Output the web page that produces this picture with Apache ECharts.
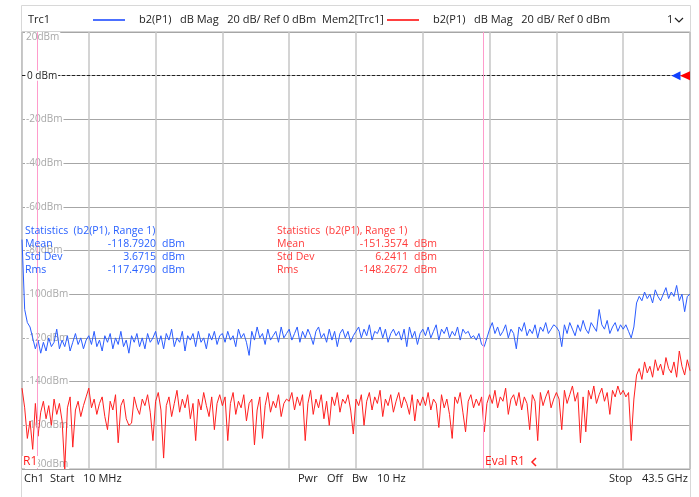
<!DOCTYPE html>
<html>
<head>
<meta charset="utf-8">
<script src="https://cdn.jsdelivr.net/npm/echarts@6/dist/echarts.min.js"></script>
<style>html,body{margin:0;padding:0;background:#fff}#c{width:699px;height:497px}</style>
</head>
<body>
<div id="c"></div>
<script>
// Sweep 10 MHz .. 43.5 GHz, 251 points (index 0..250)
const yTicks = [20, 0, -20, -40, -60, -80, -100, -120, -140, -160, -180];
const traceB2 = [
 -75,-107,-113,-115,-120,-125,-121,-127,-122,-126,-120,-124,-122,-116,-125,-121,-124,-119,-126,-122,-118,-123,-120,-125,-121,
 -119,-123,-117,-124,-121,-126,-119,-122,-118,-125,-120,-123,-117,-124,-121,-127,-119,-122,-118,-124,-120,-125,-118,-122,-120,
 -117,-123,-119,-125,-118,-121,-116,-124,-120,-122,-117,-126,-119,-121,-118,-124,-117,-122,-120,-125,-118,-121,-117,-123,-119,
 -118,-122,-117,-121,-119,-124,-116,-120,-118,-122,-128,-117,-121,-115,-120,-118,-123,-116,-121,-119,-117,-122,-115,-120,-118,
 -116,-121,-118,-115,-122,-117,-120,-116,-119,-123,-117,-115,-120,-118,-122,-116,-121,-117,-124,-118,-116,-120,-117,-122,-119,
 -117,-115,-120,-116,-119,-114,-121,-117,-118,-115,-120,-116,-122,-118,-116,-119,-117,-121,-116,-124,-115,-120,-117,-123,-118,
 -116,-119,-115,-120,-117,-114,-121,-116,-118,-115,-120,-117,-119,-115,-121,-116,-118,-117,-120,-119,-121,-118,-123,-124,-120,
 -116,-113,-118,-115,-119,-117,-114,-120,-116,-118,-125,-115,-117,-113,-119,-116,-118,-114,-120,-115,-117,-113,-118,-116,-114,
 -115,-117,-124,-114,-118,-113,-116,-119,-114,-117,-112,-116,-118,-113,-115,-117,-107,-114,-116,-112,-118,-115,-113,-117,-114,
 -116,-114,-117,-120,-115,-104,-101,-103,-99,-102,-100,-104,-98,-101,-103,-100,-97,-102,-99,-101,-96,-103,-100,-108,-101,-100
];
const traceMem2 = [
 -143,-152,-166,-158,-171,-150,-165,-154,-149,-157,-151,-160,-148,-155,-150,-158,-180,-152,-147,-170,-153,-149,-156,-151,-147,
 -143,-152,-148,-155,-150,-147,-156,-162,-149,-153,-146,-168,-151,-148,-157,-160,-159,-147,-152,-155,-148,-151,-146,-154,-167,
 -149,-145,-153,-175,-151,-147,-156,-150,-144,-154,-148,-152,-146,-157,-150,-167,-148,-153,-145,-151,-156,-147,-162,-150,-146,
 -151,-147,-167,-150,-145,-155,-149,-152,-146,-158,-150,-148,-169,-153,-147,-166,-151,-145,-154,-149,-152,-146,-156,-150,-148,
 -149,-145,-153,-147,-151,-146,-167,-150,-144,-155,-148,-152,-146,-157,-149,-160,-147,-151,-145,-154,-148,-150,-146,-153,-164,
 -148,-151,-146,-160,-149,-145,-153,-147,-150,-144,-156,-148,-151,-146,-154,-149,-145,-152,-147,-150,-155,-146,-158,-148,-151,
 -147,-151,-145,-153,-148,-150,-161,-146,-152,-148,-155,-166,-147,-150,-145,-154,-163,-149,-146,-152,-148,-151,-147,-163,-150,
 -146,-150,-144,-152,-147,-149,-143,-155,-148,-146,-151,-145,-153,-147,-150,-162,-146,-149,-167,-145,-151,-147,-144,-152,-148,
 -145,-148,-162,-144,-150,-146,-142,-149,-145,-168,-147,-163,-144,-148,-142,-150,-146,-143,-149,-145,-155,-144,-147,-142,-146,
 -144,-147,-145,-167,-148,-137,-134,-139,-131,-136,-133,-138,-130,-135,-132,-137,-129,-134,-136,-131,-138,-126,-133,-137,-130,-135
];
const range1 = [5.6, 172.8];
const refLevel = 0;
const refLabel = '0 dBm';
const statsLabels = ['Mean', 'Std Dev', 'Rms'];
const statsB2 = ['-118.7920', '3.6715', '-117.4790'];
const statsMem2 = ['-151.3574', '6.2411', '-148.2672'];
const headerB2 = 'b2(P1)   dB Mag   20 dB/ Ref 0 dBm';

const FONT = '"Open Sans", "Noto Sans", sans-serif';
const BLUE = '#2a5cff', RED = '#ff1f1f';
const chart = echarts.init(document.getElementById('c'), null, {renderer: 'canvas'});

function statsBlock(x, xr, xd, color, vals) {
  const els = [{type:'text', left:x, top:226, style:{text:'Statistics  (b2(P1), Range 1)', fill:color, font:'10.5px '+FONT}, z:50}];
  statsLabels.forEach((l, k) => {
    const y = 239 + k*13;
    els.push({type:'text', left:x, top:y, style:{text:l, fill:color, font:'10.5px '+FONT}, z:50});
    els.push({type:'text', x:xr, y:y, style:{text:vals[k], fill:color, font:'10.5px '+FONT, align:'right', verticalAlign:'top'}, z:50});
    els.push({type:'text', x:xd, y:y, style:{text:'dBm', fill:color, font:'10.5px '+FONT, verticalAlign:'top'}, z:50});
  });
  return els;
}

const hdrFont = '11px ' + FONT;
const graphics = [
  {type:'rect', shape:{x:21.5, y:5.5, width:669, height:500}, style:{fill:null, stroke:'#d8d8d8', lineWidth:1}, z:-1, silent:true},
  {type:'text', x:28, y:20, style:{text:'Trc1', fill:'#222', font:hdrFont, verticalAlign:'middle'}},
  {type:'line', shape:{x1:93, y1:20, x2:125, y2:20}, style:{stroke:'#1040ff', lineWidth:1.5}},
  {type:'text', x:139, y:20, style:{text:headerB2, fill:'#222', font:hdrFont, verticalAlign:'middle'}},
  {type:'text', x:322, y:20, style:{text:'Mem2[Trc1]', fill:'#222', font:hdrFont, verticalAlign:'middle'}},
  {type:'line', shape:{x1:387, y1:20, x2:419, y2:20}, style:{stroke:'#ff0000', lineWidth:1.5}},
  {type:'text', x:433, y:20, style:{text:headerB2, fill:'#222', font:hdrFont, verticalAlign:'middle'}},
  {type:'text', x:667, y:20, style:{text:'1', fill:'#222', font:hdrFont, verticalAlign:'middle'}},
  {type:'polyline', shape:{points:[[675,18],[679,22],[683,18]]}, style:{stroke:'#222', lineWidth:1.2, fill:null}},
  {type:'text', x:24, y:479, style:{text:'Ch1', fill:'#222', font:hdrFont, verticalAlign:'middle'}},
  {type:'text', x:50, y:479, style:{text:'Start', fill:'#222', font:hdrFont, verticalAlign:'middle'}},
  {type:'text', x:83, y:479, style:{text:'10 MHz', fill:'#222', font:hdrFont, verticalAlign:'middle'}},
  {type:'text', x:298, y:479, style:{text:'Pwr', fill:'#222', font:hdrFont, verticalAlign:'middle'}},
  {type:'text', x:327, y:479, style:{text:'Off', fill:'#222', font:hdrFont, verticalAlign:'middle'}},
  {type:'text', x:352, y:479, style:{text:'Bw', fill:'#222', font:hdrFont, verticalAlign:'middle'}},
  {type:'text', x:377, y:479, style:{text:'10 Hz', fill:'#222', font:hdrFont, verticalAlign:'middle'}},
  {type:'text', x:609, y:479, style:{text:'Stop', fill:'#222', font:hdrFont, verticalAlign:'middle'}},
  {type:'text', x:642, y:479, style:{text:'43.5 GHz', fill:'#222', font:hdrFont, verticalAlign:'middle'}},
  {type:'text', x:22, y:462, style:{text:'R1', fill:RED, font:'12px '+FONT, verticalAlign:'middle', backgroundColor:'#fff', padding:[0,1,0,1]}, z:60},
  {type:'text', x:485, y:462, style:{text:'Eval R1', fill:RED, font:'12px '+FONT, verticalAlign:'middle'}, z:60},
  {type:'polyline', shape:{points:[[536,458],[532,462],[536,466]]}, style:{stroke:RED, lineWidth:1.5, fill:null}, z:60}
].concat(statsBlock(25, 156, 162, '#2a62ff', statsB2), statsBlock(277, 408, 414, '#ff3a3a', statsMem2));

const yBase = {type:'value', min:yTicks[yTicks.length-1], max:yTicks[0], interval:20, position:'left',
  axisLine:{show:false}, axisTick:{show:false}};

chart.setOption({
  animation: false,
  backgroundColor: '#fff',
  grid: {left:22, right:9, top:32, bottom:28, show:true, borderColor:'#a8a8a8', borderWidth:1},
  xAxis: {type:'value', min:0, max:250, interval:25,
    axisLine:{show:false}, axisTick:{show:false}, axisLabel:{show:false},
    splitLine:{show:true, lineStyle:{color:'#c6c6c6', width:1.5}}},
  yAxis: [
    Object.assign({}, yBase, {z:0, axisLabel:{show:false},
      splitLine:{show:true, lineStyle:{color:'#a6a6a6', width:1}}}),
    Object.assign({}, yBase, {z:1, splitLine:{show:false},
      axisLabel:{inside:true, margin:3, align:'left', color:'#a8a8a8', fontSize:10, fontFamily:FONT,
        backgroundColor:'#fff', padding:[0,1,0,1],
        verticalAlignMinLabel:'bottom', verticalAlignMaxLabel:'top',
        formatter: v => v === refLevel ? '' : v + 'dBm'}})
  ],
  graphic: graphics,
  series: [
    {name:'b2(P1)', type:'line', yAxisIndex:0, data: traceB2.map((v,i)=>[i,v]), showSymbol:false, symbol:'none',
      lineStyle:{color:BLUE, width:1}, z:3,
      markLine:{silent:true, symbol:'none', label:{show:false},
        data:[{yAxis:refLevel, lineStyle:{color:'#222', type:[3,2], width:1}},
              {xAxis:range1[0], lineStyle:{color:'#ff9ccc', type:'solid', width:1}},
              {xAxis:range1[1], lineStyle:{color:'#ff9ccc', type:'solid', width:1}}]},
      markPoint:{silent:true, label:{show:false},
        data:[{coord:[250, refLevel], symbol:'triangle', symbolSize:[9,9], symbolRotate:90, symbolOffset:[-14,0], itemStyle:{color:'#1040ff'}}]}},
    {name:'Mem2', type:'line', yAxisIndex:0, data: traceMem2.map((v,i)=>[i,v]), showSymbol:false, symbol:'none',
      lineStyle:{color:RED, width:1}, z:3,
      markPoint:{silent:true, label:{show:false},
        data:[{coord:[250, refLevel], symbol:'triangle', symbolSize:[9,10], symbolRotate:90, symbolOffset:[-5,0], itemStyle:{color:'#ff0000'}}]}}
  ]
});

// reference-level label placed on the library's own y scale, drawn over the dashed line
const refY = chart.convertToPixel({yAxisIndex:0}, refLevel);
chart.setOption({graphic: graphics.concat([
  {type:'text', x:26, y:refY, z:70, style:{text:refLabel, fill:'#222', font:'10px '+FONT, verticalAlign:'middle',
    backgroundColor:'#fff', padding:[0,1,0,1]}}
])}, {replaceMerge:['graphic']});
</script>
</body>
</html>
